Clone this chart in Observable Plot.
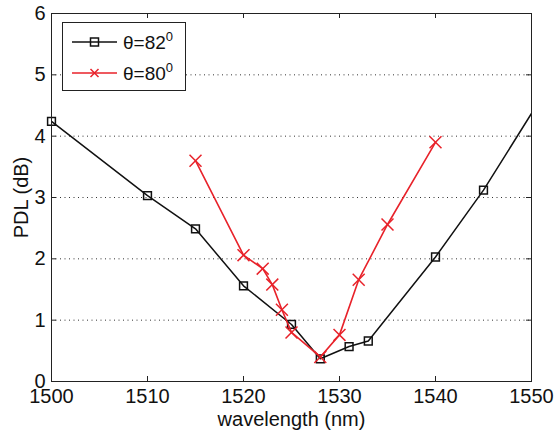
<!DOCTYPE html>
<html>
<head>
<meta charset="utf-8">
<script src="https://cdn.jsdelivr.net/npm/d3@7"></script>
<script src="https://cdn.jsdelivr.net/npm/@observablehq/plot@0.6"></script>
<style>
  html, body { margin: 0; padding: 0; background: #fff; }
  #wrap { position: relative; width: 554px; height: 436px; font-family: "Liberation Sans", Arial, sans-serif; }
  #legend { position: absolute; left: 62px; top: 22px; width: 124px; height: 69px; background: #fff; border: 1px solid #222; box-sizing: border-box; }
  #legend svg { position: absolute; left: 0; top: 0; }
</style>
</head>
<body>
<div id="wrap"></div>
<script>
// Data
const wl82  = [1500, 1510, 1515, 1520, 1525, 1528, 1531, 1533, 1540, 1545, 1555];
const pdl82 = [4.24, 3.03, 2.49, 1.56, 0.93, 0.37, 0.57, 0.66, 2.03, 3.12, 5.62];
const wl80  = [1515, 1520, 1522, 1523, 1524, 1525, 1528, 1530, 1532, 1535, 1540];
const pdl80 = [3.60, 2.06, 1.84, 1.58, 1.17, 0.80, 0.40, 0.76, 1.66, 2.56, 3.90];
const xTicks = [1500, 1510, 1520, 1530, 1540, 1550];
const yTicks = [0, 1, 2, 3, 4, 5, 6];
const gridY = [1, 2, 3, 4, 5];
const seriesLabels = ["θ=82", "θ=80"];

const d82 = wl82.map((x, i) => ({x, y: pdl82[i]}));
const d80 = wl80.map((x, i) => ({x, y: pdl80[i]}));

const W = 554, H = 436, mT = 13, mB = 55, mL = 51, mR = 23;
const fh = H - mT - mB, fw = W - mL - mR;
const tk = 5;
const axisColor = "#222";
const red = "#e8222a";

const chart = Plot.plot({
  width: W, height: H,
  marginTop: mT, marginBottom: mB, marginLeft: mL, marginRight: mR,
  style: {fontFamily: "Liberation Sans, Arial, sans-serif", background: "#fff", overflow: "visible"},
  x: {domain: [1500, 1550]},
  y: {domain: [0, 6]},
  marks: [
    Plot.ruleY(gridY, {y: d => d, stroke: "#333", strokeWidth: 1, strokeDasharray: "1,3.5"}),
    // inward ticks
    Plot.ruleX(xTicks, {x: d => d, insetTop: fh - tk, stroke: axisColor}),
    Plot.ruleX(xTicks, {x: d => d, insetBottom: fh - tk, stroke: axisColor}),
    Plot.ruleY(yTicks, {y: d => d, insetRight: fw - tk, stroke: axisColor}),
    Plot.ruleY(yTicks, {y: d => d, insetLeft: fw - tk, stroke: axisColor}),
    Plot.axisX(xTicks, {tickSize: 0, tickPadding: 7, fontSize: 20, fill: "#111", label: null, tickFormat: d => String(d)}),
    Plot.axisY(yTicks, {tickSize: 0, tickPadding: 6, fontSize: 20, fill: "#111", label: null, tickFormat: d => String(d)}),
    Plot.text(["wavelength (nm)"], {frameAnchor: "bottom", lineAnchor: "middle", dy: 38, fontSize: 20, fill: "#111", text: d => d}),
    Plot.text(["PDL (dB)"], {frameAnchor: "left", textAnchor: "middle", lineAnchor: "middle", dx: -30, rotate: -90, fontSize: 20, fill: "#111", text: d => d}),
    Plot.line(d82, {x: "x", y: "y", stroke: "#111", strokeWidth: 1.5, clip: true}),
    Plot.dot(d82.filter(d => d.x <= 1550), {x: "x", y: "y", symbol: "square", r: 4.4, stroke: "#111", strokeWidth: 1.5, fill: "none"}),
    Plot.line(d80, {x: "x", y: "y", stroke: red, strokeWidth: 1.6}),
    Plot.dot(d80, {x: "x", y: "y", symbol: "times", r: 5.5, stroke: red, strokeWidth: 1.5}),
    Plot.frame({stroke: axisColor, strokeWidth: 1})
  ]
});
const wrap = document.getElementById("wrap");
wrap.appendChild(chart);

// Legend overlay
const leg = document.createElement("div");
leg.id = "legend";
leg.innerHTML = `<svg width="124" height="69" xmlns="http://www.w3.org/2000/svg" font-family="Liberation Sans, Arial, sans-serif">
  <line x1="9" x2="54" y1="19" y2="19" stroke="#111" stroke-width="1.5"/>
  <rect x="27.5" y="15" width="8" height="8" fill="none" stroke="#111" stroke-width="1.5"/>
  <text x="60" y="26" font-size="19" fill="#111">${seriesLabels[0]}<tspan dy="-8" font-size="13">0</tspan></text>
  <line x1="9" x2="54" y1="50" y2="50" stroke="${red}" stroke-width="1.6"/>
  <path d="M27.5,46 L35.5,54 M35.5,46 L27.5,54" stroke="${red}" stroke-width="1.5"/>
  <text x="60" y="57" font-size="19" fill="#111">${seriesLabels[1]}<tspan dy="-8" font-size="13">0</tspan></text>
</svg>`;
wrap.appendChild(leg);
</script>
</body>
</html>
